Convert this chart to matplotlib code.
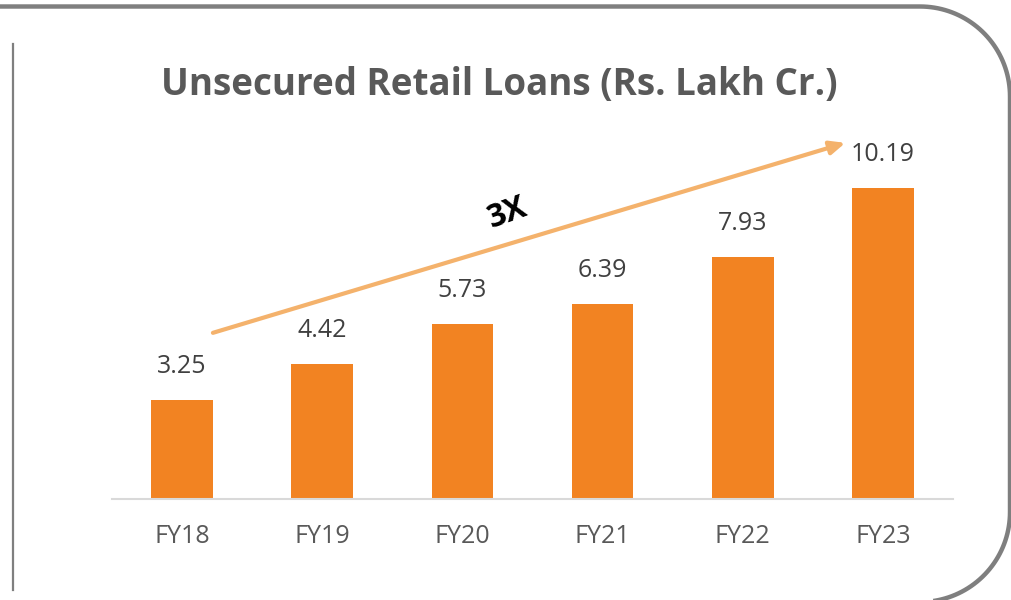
import numpy as np
import matplotlib.pyplot as plt

years = ['FY18', 'FY19', 'FY20', 'FY21', 'FY22', 'FY23']
loans = [3.25, 4.42, 5.73, 6.39, 7.93, 10.19]

BAR = '#F28322'
ARROW = '#F4B26C'

plt.rcParams['font.family'] = ['Open Sans', 'DejaVu Sans']

fig = plt.figure(figsize=(10.12, 6.0), dpi=100)

# frame drawn in pixel coords on a background axes
bg = fig.add_axes([0, 0, 1, 1], zorder=0)
bg.set_xlim(0, 1012)
bg.set_ylim(600, 0)
bg.axis('off')
r, right, top, bottom = 90, 1010, 6.5, 602
t = np.linspace(0, np.pi / 2, 40)
fx = np.concatenate([[-5], right - r + r * np.sin(t), right - r + r * np.cos(t), [-5]])
fy = np.concatenate([[top], top + r - r * np.cos(t), bottom - r + r * np.sin(t), [bottom]])
bg.plot(fx, fy, color='#7f7f7f', lw=3.2, solid_capstyle='butt')
bg.plot([13, 13], [44, 590], color='#7f7f7f', lw=1.6)

ax = fig.add_axes([112 / 1012, 101 / 600, 841 / 1012, 366 / 600], zorder=1)
ax.patch.set_alpha(0)
x = range(len(years))
bars = ax.bar(x, loans, width=0.44, color=BAR)
ax.set_xlim(-0.5, len(years) - 0.5)
ax.set_ylim(0, 12)

for b, v in zip(bars, loans):
    ax.annotate(f'{v:.2f}', (b.get_x() + b.get_width() / 2, v),
                xytext=(0, 15), textcoords='offset points',
                ha='center', va='bottom', fontsize=18, color='#404040')

ax.set_xticks(list(x))
ax.set_xticklabels(years, fontsize=18, color='#595959')
ax.tick_params(axis='x', length=0, pad=18)
ax.set_yticks([])
for s in ['top', 'right', 'left']:
    ax.spines[s].set_visible(False)
ax.spines['bottom'].set_color('#d9d9d9')
ax.spines['bottom'].set_linewidth(1.5)

# growth arrow
ax.annotate('', xy=(0.872, 0.973), xytext=(0.120, 0.454), xycoords='axes fraction',
            arrowprops=dict(arrowstyle='-|>,head_length=0.9,head_width=0.4',
                            color=ARROW, lw=3, shrinkA=0, shrinkB=0))
bg.text(508, 213, '3X', fontsize=23, fontweight='bold', color='black',
        rotation=20, ha='center', va='center')

bg.text(499, 85, 'Unsecured Retail Loans (Rs. Lakh Cr.)', fontsize=26.5,
        fontweight='bold', color='#595959', ha='center', va='center')

fig.savefig('out.png', dpi=100)
